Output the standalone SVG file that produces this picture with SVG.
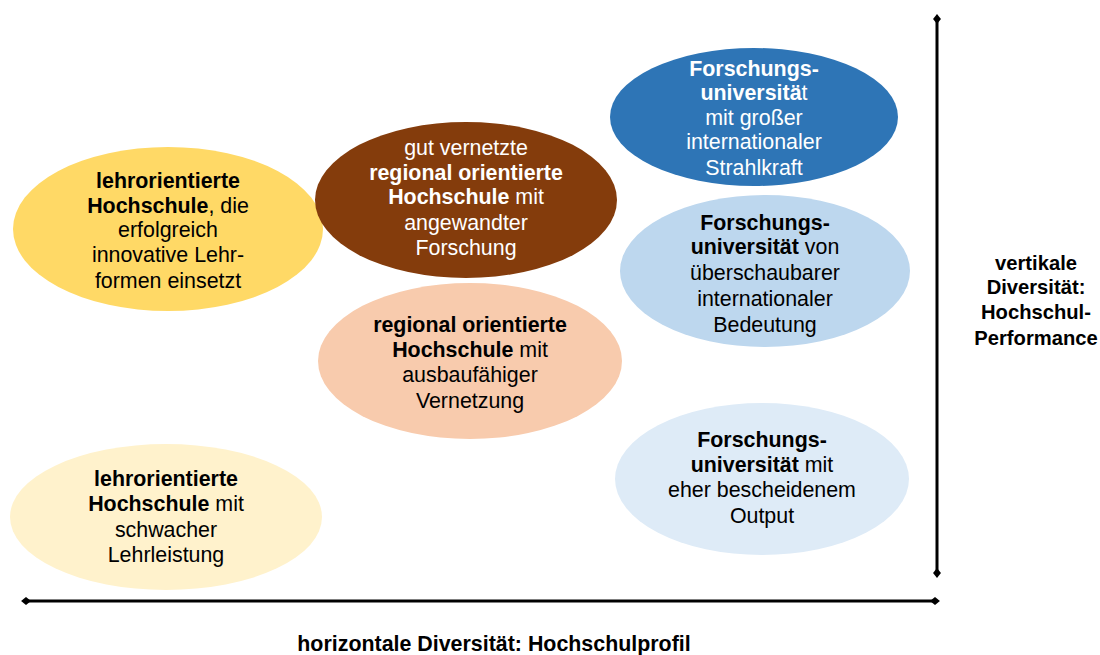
<svg xmlns="http://www.w3.org/2000/svg" width="1100" height="655" viewBox="0 0 1100 655">
  <style>
    text { font-family: "Liberation Sans", Arial, sans-serif; font-size: 21.4px; text-anchor: middle; }
    .b { font-weight: bold; }
    .w { fill: #ffffff; }
    .k { fill: #000000; }
    .side { font-size: 20.2px; }
    .axis { stroke: #000000; stroke-width: 3; fill: none; }
  </style>
  <defs>
    <marker id="dia" viewBox="-5 -5 10 10" markerWidth="3.3" markerHeight="3.3" orient="auto" markerUnits="strokeWidth">
      <path d="M-5 0 L0 -4 L5 0 L0 4 Z" fill="#000000"/>
    </marker>
  </defs>

  <rect width="1100" height="655" fill="#ffffff"/>

  <g id="connectors">
    <line class="axis" x1="937" y1="19" x2="937" y2="573" marker-start="url(#dia)" marker-end="url(#dia)"/>
    <line class="axis" x1="26" y1="601" x2="935" y2="601" marker-start="url(#dia)" marker-end="url(#dia)"/>
  </g>

  <g id="lehr-innovativ">
    <ellipse cx="168" cy="229" rx="155" ry="82" fill="#FFD966"/>
    <text class="k" x="168" y="188"><tspan class="b">lehrorientierte</tspan></text>
    <text class="k" x="168" y="213"><tspan class="b">Hochschule</tspan>, die</text>
    <text class="k" x="168" y="237">erfolgreich</text>
    <text class="k" x="168" y="262">innovative Lehr-</text>
    <text class="k" x="168" y="288">formen einsetzt</text>
  </g>

  <g id="regional-vernetzt">
    <ellipse cx="466" cy="200" rx="151" ry="78" fill="#843C0C"/>
    <text class="w" x="466" y="155">gut vernetzte</text>
    <text class="w b" x="466" y="180">regional orientierte</text>
    <text class="w" x="466" y="204"><tspan class="b">Hochschule</tspan> mit</text>
    <text class="w" x="466" y="230">angewandter</text>
    <text class="w" x="466" y="255">Forschung</text>
  </g>

  <g id="forschung-gross">
    <ellipse cx="754" cy="117" rx="144" ry="69" fill="#2E75B6"/>
    <text class="w b" x="754" y="76">Forschungs-</text>
    <text class="w" x="754" y="100"><tspan class="b">universitä</tspan>t</text>
    <text class="w" x="754" y="125">mit großer</text>
    <text class="w" x="754" y="149">internationaler</text>
    <text class="w" x="754" y="175">Strahlkraft</text>
  </g>

  <g id="forschung-mittel">
    <ellipse cx="765" cy="271" rx="145" ry="76" fill="#BDD7EE"/>
    <text class="k b" x="765" y="230">Forschungs-</text>
    <text class="k" x="765" y="254"><tspan class="b">universität</tspan> von</text>
    <text class="k" x="765" y="280">überschaubarer</text>
    <text class="k" x="765" y="306">internationaler</text>
    <text class="k" x="765" y="332">Bedeutung</text>
  </g>

  <g id="regional-ausbau">
    <ellipse cx="470" cy="361" rx="152" ry="78" fill="#F8CBAD"/>
    <text class="k b" x="470" y="332">regional orientierte</text>
    <text class="k" x="470" y="357"><tspan class="b">Hochschule</tspan> mit</text>
    <text class="k" x="470" y="382">ausbaufähiger</text>
    <text class="k" x="470" y="408">Vernetzung</text>
  </g>

  <g id="forschung-bescheiden">
    <ellipse cx="762" cy="479" rx="147" ry="76" fill="#DEEBF7"/>
    <text class="k b" x="762" y="447">Forschungs-</text>
    <text class="k" x="762" y="472"><tspan class="b">universität</tspan> mit</text>
    <text class="k" x="762" y="497">eher bescheidenem</text>
    <text class="k" x="762" y="523">Output</text>
  </g>

  <g id="lehr-schwach">
    <ellipse cx="166" cy="517" rx="156" ry="73" fill="#FFF2CC"/>
    <text class="k b" x="166" y="486">lehrorientierte</text>
    <text class="k" x="166" y="511"><tspan class="b">Hochschule</tspan> mit</text>
    <text class="k" x="166" y="537">schwacher</text>
    <text class="k" x="166" y="562">Lehrleistung</text>
  </g>

  <g id="label-vertikal">
    <text class="k b side" x="1036" y="270">vertikale</text>
    <text class="k b side" x="1036" y="294">Diversität:</text>
    <text class="k b side" x="1036" y="319">Hochschul-</text>
    <text class="k b side" x="1036" y="345">Performance</text>
  </g>

  <g id="label-horizontal">
    <text class="k b" x="494" y="651">horizontale Diversität: Hochschulprofil</text>
  </g>
</svg>
